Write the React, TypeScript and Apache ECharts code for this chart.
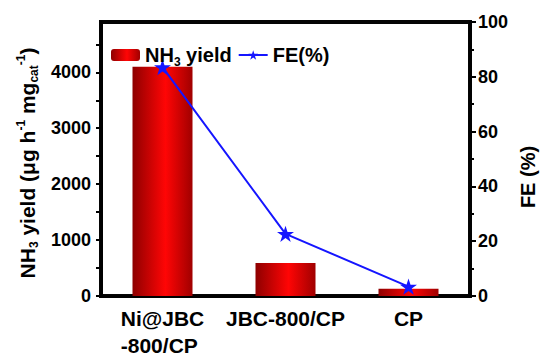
import React, { useEffect, useRef } from 'react';
import * as echarts from 'echarts';

const categories = ['Ni@JBC\n-800/CP', 'JBC-800/CP', 'CP'];
const nh3Yield = [4100, 590, 130];
const fe = [83.5, 22.7, 3.4];
const yieldMax = 4900;
const feMax = 100;

const FONT = "'Liberation Sans', Arial, sans-serif";
const STAR =
  'path://M50,0 L61.2,34.5 L97.6,34.5 L68.2,55.9 L79.4,90.5 L50,69.1 L20.6,90.5 L31.8,55.9 L2.4,34.5 L38.8,34.5 Z';

export default function App() {
  const ref = useRef<HTMLDivElement>(null);
  useEffect(() => {
    if (!ref.current) return;
    const chart = echarts.init(ref.current, undefined, { renderer: 'svg' });
    const bold = { fontFamily: FONT, fontWeight: 'bold' as const, color: '#000' };
    chart.setOption({
      animation: false,
      backgroundColor: '#fff',
      grid: { left: 101, right: 71, top: 22, bottom: 60, show: true, borderColor: '#050505', borderWidth: 4 },
      legend: {
        left: 106,
        top: 40,
        itemWidth: 29,
        itemHeight: 12,
        itemGap: 6,
        data: ['NH3 yield', 'FE(%)'],
        formatter: (n: string) =>
          n === 'NH3 yield' ? '{b|NH}{s|3}{b| yield}' : '{b|FE(%)}',
        textStyle: {
          ...bold,
          rich: {
            b: { ...bold, fontSize: 20 },
            s: { ...bold, fontSize: 12, padding: [14, 0, 0, 0] },
          },
        },
      },
      xAxis: [
        {
          type: 'category',
          data: categories,
          boundaryGap: true,
          axisLine: { lineStyle: { color: '#000', width: 2.5 } },
          axisTick: { alignWithLabel: true, length: 6, lineStyle: { width: 2, color: '#000' } },
          axisLabel: {
            margin: 9,
            formatter: (v: string) =>
              v.includes('\n') ? v.split('\n').map((l) => `{l|${l}}`).join('\n') : `{c|${v}}`,
            rich: {
              l: { ...bold, fontSize: 21, align: 'left', lineHeight: 27 },
              c: { ...bold, fontSize: 21, lineHeight: 27 },
            },
          },
        },
        {
          type: 'category',
          data: categories,
          position: 'bottom',
          boundaryGap: true,
          axisLine: { show: false },
          axisTick: { length: 4, lineStyle: { width: 2, color: '#000' } },
          axisLabel: { show: false },
        },
      ],
      yAxis: [
        {
          type: 'value',
          min: 0,
          max: yieldMax,
          interval: 500,
          position: 'left',
          splitLine: { show: false },
          axisLine: { show: true, lineStyle: { color: '#000', width: 2.5 } },
          axisTick: { show: true, length: 5, lineStyle: { width: 2, color: '#000' } },
          axisLabel: {
            ...bold,
            fontSize: 18,
            margin: 10,
            showMaxLabel: false,
            formatter: (v: number) => (v % 1000 === 0 ? String(v) : ''),
          },
        },
        {
          type: 'value',
          min: 0,
          max: feMax,
          interval: 20,
          position: 'right',
          splitLine: { show: false },
          axisLine: { show: true, lineStyle: { color: '#000', width: 2.5 } },
          axisTick: { show: true, length: 6, lineStyle: { width: 2, color: '#000' } },
          minorTick: { show: true, splitNumber: 2, length: 4, lineStyle: { width: 2, color: '#000' } },
          axisLabel: { ...bold, fontSize: 18, margin: 8 },
        },
      ],
      series: [
        {
          name: 'NH3 yield',
          type: 'bar',
          xAxisIndex: 0,
          yAxisIndex: 0,
          data: nh3Yield,
          barWidth: 60,
          itemStyle: {
            color: new echarts.graphic.LinearGradient(0, 0, 1, 0, [
              { offset: 0, color: '#8e0000' },
              { offset: 0.55, color: '#ff0505' },
              { offset: 1, color: '#a00000' },
            ]),
          },
        },
        {
          name: 'FE(%)',
          type: 'line',
          xAxisIndex: 0,
          yAxisIndex: 1,
          data: fe,
          symbol: STAR,
          symbolKeepAspect: true,
          symbolSize: 17,
          lineStyle: { color: '#1515ff', width: 2 },
          itemStyle: { color: '#1515ff' },
        },
      ],
      graphic: [
        {
          type: 'text',
          x: 27,
          y: 163,
          rotation: Math.PI / 2,
          style: {
            text: '{b|NH}{s|3}{b| yield (μg h}{p|-1}{b| mg}{s|cat}{p|-1}{b|)}',
            align: 'center',
            verticalAlign: 'middle',
            rich: {
              b: { ...bold, fontSize: 21 },
              s: { ...bold, fontSize: 12, padding: [13, 0, 0, 0] },
              p: { ...bold, fontSize: 12, padding: [0, 0, 13, 0] },
            },
          },
        },
        {
          type: 'text',
          x: 528,
          y: 177,
          rotation: Math.PI / 2,
          style: {
            text: 'FE (%)',
            align: 'center',
            verticalAlign: 'middle',
            fontFamily: FONT,
            fontWeight: 'bold',
            fontSize: 20,
            fill: '#000',
          },
        },
      ],
    });
    return () => chart.dispose();
  }, []);
  return <div ref={ref} style={{ width: 541, height: 356, position: 'absolute', left: 0, top: 0 }} />;
}
